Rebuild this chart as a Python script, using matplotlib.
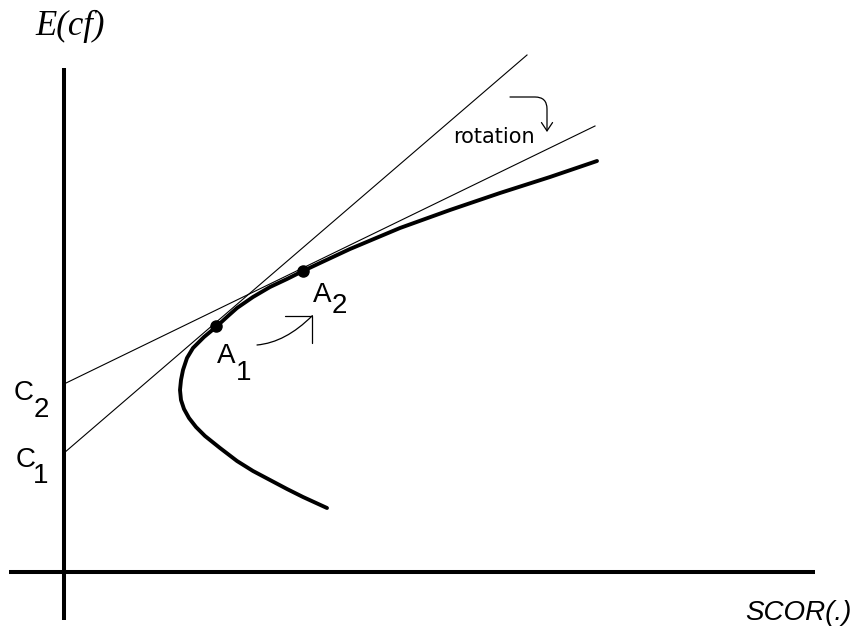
import numpy as np
import matplotlib
matplotlib.use("Agg")
import matplotlib.pyplot as plt
from matplotlib.patches import FancyArrowPatch

# frontier E(cf) vs SCOR(.), upper branch to lower branch
frontier_x = [533, 486, 436, 386, 336, 286, 256, 239, 223, 206, 189, 173, 164,
              152, 140, 129, 123, 119, 117, 116, 117, 120, 125, 132, 141, 156,
              173, 189, 206, 223, 239, 263]
frontier_y = [411, 395, 379, 362, 344, 323, 309, 301, 293, 285, 275, 264, 256,
              245, 235, 224, 214, 202, 192, 182, 172, 163, 154, 145, 136, 124,
              111, 101, 92, 83, 75, 64]

# tangent lines: intercept on the E(cf) axis and far end
c1_line_x = [0, 463]
c1_line_y = [119, 517]
c2_line_x = [0, 531]
c2_line_y = [188, 446]

# tangency points
a_x = [152, 239]
a_y = [246, 301]

fig = plt.figure(figsize=(8.64, 6.29), dpi=100)
ax = fig.add_axes([0, 0, 1, 1])
ax.set_xlim(-64, 800)
ax.set_ylim(-57, 572)

for side in ("top", "right"):
    ax.spines[side].set_visible(False)
ax.spines["left"].set_position(("data", 0))
ax.spines["bottom"].set_position(("data", 0))
ax.spines["left"].set_bounds(-48, 504)
ax.spines["bottom"].set_bounds(-55, 751)
for side in ("left", "bottom"):
    ax.spines[side].set_linewidth(2.9)
    ax.spines[side].set_capstyle("butt")
ax.set_xticks([])
ax.set_yticks([])
ax.patch.set_visible(False)

ax.plot(c1_line_x, c1_line_y, color="black", lw=0.8)
ax.plot(c2_line_x, c2_line_y, color="black", lw=0.8)
ax.plot(frontier_x, frontier_y, color="black", lw=2.8,
        solid_joinstyle="round", solid_capstyle="round")
ax.plot(a_x, a_y, "o", color="black", ms=8)

# axis titles
ax.text(-29, 537, "E(cf)", fontsize=25, family="Liberation Serif", style="italic",
        ha="left", va="baseline")
ax.text(681, -48, "SCOR(.)", fontsize=20, family="Liberation Sans", style="italic",
        ha="left", va="baseline")

# point labels with subscripts
lab = dict(fontsize=20, family="Liberation Sans", ha="left", va="baseline")
ax.text(-50, 172, "C", **lab)
ax.text(-30, 155, "2", **lab)
ax.text(-48, 105, "C", **lab)
ax.text(-31, 89, "1", **lab)
ax.text(153, 209, "A", **lab)
ax.text(172, 192, "1", **lab)
ax.text(249, 270, "A", **lab)
ax.text(268, 259, "2", **lab)

ax.text(389, 429, "rotation", fontsize=15, family="DejaVu Sans",
        ha="left", va="baseline")

# rotation arrows
rot = FancyArrowPatch((446, 475), (483, 440),
                      connectionstyle="angle,angleA=0,angleB=90,rad=12",
                      arrowstyle="->,head_length=6,head_width=4",
                      color="black", lw=0.9, shrinkA=0, shrinkB=0)
ax.add_patch(rot)
mv = FancyArrowPatch((193, 227), (249, 257),
                     connectionstyle="angle3,angleA=5,angleB=45",
                     arrowstyle="->,head_length=14,head_width=14",
                     color="black", lw=0.9, shrinkA=0, shrinkB=0)
ax.add_patch(mv)

fig.savefig("out.png", dpi=100)
